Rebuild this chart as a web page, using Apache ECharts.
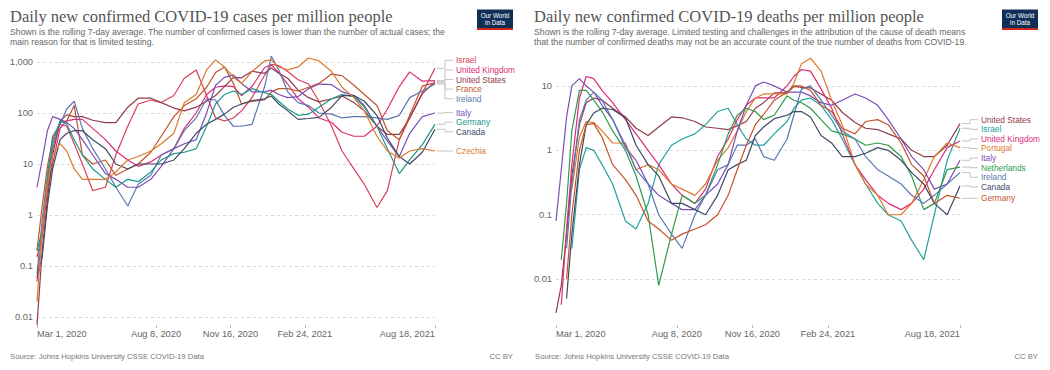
<!DOCTYPE html>
<html><head><meta charset="utf-8">
<script src="https://cdn.jsdelivr.net/npm/echarts@6/dist/echarts.min.js"></script>
<style>html,body{margin:0;padding:0;background:#fff}#c{width:1050px;height:370px}</style>
</head><body><div id="c"></div>
<script>
// ---- Data ----
const dates = ['2020-03-01','2020-03-08','2020-03-15','2020-03-22','2020-04-01','2020-04-10','2020-04-20','2020-05-01','2020-05-15','2020-06-01','2020-06-15','2020-07-01','2020-07-15','2020-08-01','2020-08-15','2020-09-01','2020-09-15','2020-10-01','2020-10-15','2020-10-27','2020-11-08','2020-11-20','2020-12-01','2020-12-15','2021-01-01','2021-01-10','2021-01-20','2021-02-01','2021-02-15','2021-03-01','2021-03-15','2021-04-01','2021-04-15','2021-05-01','2021-05-15','2021-06-01','2021-06-15','2021-07-01','2021-07-15','2021-08-01','2021-08-18'];

// Daily new confirmed cases per million (7-day average)
const casesIsrael        = [0.15,0.4,4,20,60,55,25,10,3,3.5,15,55,150,180,160,220,480,700,220,80,70,80,110,200,550,900,850,650,450,370,170,55,18,8,4,1.4,3,30,80,250,750];
const casesUnitedKingdom = [0.05,0.4,3,10,50,70,75,75,50,30,18,12,9,11,15,20,50,100,230,320,340,330,220,330,780,880,620,370,190,130,80,65,42,35,35,55,120,330,640,420,430];
const casesUnitedStates  = [0.007,0.2,2,15,70,92,85,85,72,65,65,130,195,195,160,125,110,130,170,220,330,500,490,660,600,760,600,480,280,200,165,190,215,160,110,55,38,38,80,240,410];
const casesFrance        = [0.2,1.5,9,30,65,70,140,15,10,12,6,8,10,17,35,85,140,190,320,620,800,380,150,170,180,260,300,300,270,320,380,580,540,350,230,140,45,30,90,340,390];
const casesIreland       = [0.07,0.8,6,35,60,120,170,50,20,8,3.5,1.5,4,6,15,20,45,80,190,180,90,55,55,60,330,1300,700,260,160,140,100,95,80,85,85,80,75,90,200,270,370];
const casesItaly         = [3.5,12,45,85,75,65,50,30,15,6.5,5,3.5,3.5,5,9,20,25,30,100,350,500,560,380,260,260,280,230,200,210,300,370,360,260,220,140,55,28,14,40,85,100];
const casesGermany       = [0.2,0.5,5,25,70,60,30,15,8,5,3.5,5,4.5,7,12,16,17,20,55,150,230,270,230,300,250,230,170,120,90,95,130,190,230,210,130,55,20,6.5,12,24,60];
const casesCanada        = [0.06,0.15,1.5,8,30,40,45,45,30,20,10,8,10,10,10,12,20,40,60,75,95,130,150,175,190,215,150,110,75,78,82,130,220,220,170,90,32,14,10,17,48];
const casesCzechia       = [0.02,0.5,4,15,25,18,8,5,5,5,7,12,14,18,25,40,160,230,700,1100,800,500,380,650,1050,1100,800,700,800,1200,1050,650,320,200,110,35,18,13,18,20,18];

// Daily new confirmed deaths per million (7-day average)
const deathsUnitedStates  = [0.003,0.008,0.05,0.4,2.5,5.5,6.5,6,4.5,3.3,2.2,1.7,2.3,3.3,3.2,2.8,2.3,2.2,2.1,2.4,2.8,4.5,5.5,7.8,7.8,9.8,9.5,9.3,7.5,6,3.9,2.7,2.2,2.1,1.8,1.5,1.0,0.8,0.8,1.2,2.6];
const deathsIsrael        = [null,null,null,0.03,0.5,1.1,1.0,0.6,0.3,0.08,0.06,0.15,0.6,1.2,1.5,1.8,2.5,4,4.5,2.5,1.5,1.2,1.2,1.8,2.8,4.5,6,6.5,5,3,1.5,0.6,0.3,0.15,0.1,0.08,0.04,0.02,0.1,0.7,2.2];
const deathsUnitedKingdom = [null,0.004,0.06,0.6,6.5,14,13,8.5,5.5,3,1.8,1.0,0.6,0.3,0.2,0.15,0.25,0.8,1.5,3,5,6.5,6.5,6.5,10,14,18,17,9,4.5,1.8,0.6,0.35,0.2,0.15,0.12,0.15,0.25,0.5,1.1,1.4];
const deathsPortugal      = [null,null,null,0.25,1.6,2.8,2.7,2,1.3,1.3,0.5,0.6,0.5,0.3,0.25,0.2,0.3,0.7,1.1,2,4,6.5,7.5,7.5,7.5,11,22,27,17,6,2.5,0.6,0.3,0.2,0.1,0.1,0.15,0.35,0.8,1.3,1.1];
const deathsItaly         = [0.08,0.5,3.3,10,13,10,8,5,3,1.1,0.7,0.3,0.2,0.15,0.12,0.12,0.2,0.3,0.6,2,5,10,11.5,10,8,8,8,7,5.5,5,6,7.5,6.5,5,3,1.5,0.8,0.5,0.25,0.3,0.7];
const deathsNetherlands   = [null,0.02,0.15,2,8.5,8.5,6,4,2,1,0.4,0.1,0.008,0.05,0.2,0.15,0.2,0.6,1.8,3.5,4.5,4,3,3.5,7,6,5.5,4.5,3,2,1.8,1.5,1.2,1.3,1.2,0.8,0.4,0.12,0.15,0.5,0.55];
const deathsIreland       = [null,null,0.03,0.3,3,6,8,6,3,1.2,0.5,0.3,0.1,0.05,0.03,0.1,0.2,0.5,0.6,1.2,1.2,1.5,0.8,0.7,1.5,3.5,9,10,6,3.5,2,1.5,0.8,0.5,0.4,0.3,0.2,0.15,0.2,0.3,0.45];
const deathsCanada        = [null,null,0.005,0.05,0.6,2.5,3.8,4.5,4.3,3.2,1.2,0.6,0.4,0.15,0.15,0.12,0.1,0.2,0.5,0.6,0.7,1.7,2.3,3.1,3.5,4,4,3.3,1.7,1.3,0.8,0.8,0.9,1.1,1.0,0.7,0.45,0.3,0.15,0.1,0.28];
const deathsGermany       = [null,null,0.01,0.1,1,2.5,2.6,1.6,0.6,0.35,0.2,0.08,0.06,0.04,0.05,0.06,0.07,0.1,0.2,0.5,1.2,2.5,3.6,6,8,10,10,8.5,5,4,2.2,1.8,2.8,3,2.5,1.3,0.6,0.4,0.15,0.2,0.18];

// Tick labels
const xTickDates = ['2020-03-01','2020-08-08','2020-11-16','2021-02-24','2021-08-18'];
const yTickExponents = [-2,-1,0,1,2,3];
const yTickLabels = ['0.01','0.1','1','10','100','1,000'];

// Texts
const titleCases = 'Daily new confirmed COVID-19 cases per million people';
const subtitleCases = 'Shown is the rolling 7-day average. The number of confirmed cases is lower than the number of actual cases; the\nmain reason for that is limited testing.';
const titleDeaths = 'Daily new confirmed COVID-19 deaths per million people';
const subtitleDeaths = 'Shown is the rolling 7-day average. Limited testing and challenges in the attribution of the cause of death means\nthat the number of confirmed deaths may not be an accurate count of the true number of deaths from COVID-19.';
const sourceText = 'Source: Johns Hopkins University CSSE COVID-19 Data';
const licenseText = 'CC BY';

// ---- Series styling ----
const caseSeries = [
  {name:'Israel', data:casesIsrael, color:'#d94158'},
  {name:'United Kingdom', data:casesUnitedKingdom, color:'#de2b78'},
  {name:'United States', data:casesUnitedStates, color:'#8f3d4b'},
  {name:'France', data:casesFrance, color:'#c4522a'},
  {name:'Ireland', data:casesIreland, color:'#5a77b0'},
  {name:'Italy', data:casesItaly, color:'#7d4db5'},
  {name:'Germany', data:casesGermany, color:'#1a9988'},
  {name:'Canada', data:casesCanada, color:'#3e4a63'},
  {name:'Czechia', data:casesCzechia, color:'#da7a2c'}
];
const deathSeries = [
  {name:'United States', data:deathsUnitedStates, color:'#8f3d4b'},
  {name:'Israel', data:deathsIsrael, color:'#22a29a'},
  {name:'United Kingdom', data:deathsUnitedKingdom, color:'#de2b78'},
  {name:'Portugal', data:deathsPortugal, color:'#dd7a2c'},
  {name:'Italy', data:deathsItaly, color:'#7d4db5'},
  {name:'Netherlands', data:deathsNetherlands, color:'#2e9b4c'},
  {name:'Ireland', data:deathsIreland, color:'#5a77b0'},
  {name:'Canada', data:deathsCanada, color:'#3e4a63'},
  {name:'Germany', data:deathsGermany, color:'#c4522a'}
];

// Day number since the first date (x axis is a value axis of days)
const T0 = Date.parse(dates[0] + 'T00:00:00Z');
function dayOf(s){ return Math.round((Date.parse(s + 'T00:00:00Z') - T0) / 86400000); }
const MONTHS = ['Jan','Feb','Mar','Apr','May','Jun','Jul','Aug','Sep','Oct','Nov','Dec'];
function fmtDay(v){ const d = new Date(T0 + Math.round(v) * 86400000); return MONTHS[d.getUTCMonth()] + ' ' + d.getUTCDate() + ', ' + d.getUTCFullYear(); }
function fmtLog(v){
  const e = Math.log10(v), k = Math.round(e);
  if (Math.abs(e - k) > 0.01) return '';
  const i = yTickExponents.indexOf(k);
  return i < 0 ? '' : yTickLabels[i];
}

const SANS = 'Liberation Sans';
const SERIF = 'Liberation Serif';
const xTicks = xTickDates.map(dayOf);

function xAxisCfg(gi){
  return {type:'value', gridIndex:gi, min:0, max:dayOf(dates[dates.length-1]),
    axisLine:{show:false},
    axisTick:{show:true, customValues:xTicks, length:3, lineStyle:{color:'#bbb'}},
    axisLabel:{customValues:xTicks, formatter:fmtDay, color:'#666', fontSize:9.3, fontFamily:SANS, margin:4,
      alignMinLabel:'left', alignMaxLabel:'right', hideOverlap:false},
    splitLine:{show:false}};
}
function yAxisCfg(gi, mn, mx){
  return {type:'log', logBase:10, gridIndex:gi, min:mn, max:mx,
    axisLine:{show:false}, axisTick:{show:false},
    axisLabel:{formatter:fmtLog, color:'#666', fontSize:9.3, fontFamily:SANS, margin:4, showMinLabel:false, showMaxLabel:false},
    splitLine:{show:true, showMinLine:false, showMaxLine:false, lineStyle:{type:[3,3], color:'#d9d9d9', width:1}}};
}
function mkSeries(list, gi){
  return list.map(s => ({type:'line', name:s.name, xAxisIndex:gi, yAxisIndex:gi,
    data: dates.map((d,i) => [dayOf(d), s.data[i]]), showSymbol:false, symbol:'none',
    lineStyle:{width:1.2, color:s.color}, itemStyle:{color:s.color}, emphasis:{disabled:true}, silent:true}));
}
function titleBlock(left, title, sub){
  return [
    {text:title, left:left, top:8, padding:0, textStyle:{fontFamily:SERIF, fontSize:16.5, fontWeight:'normal', color:'#555'}},
    {text:sub, left:left, top:27, padding:0, textStyle:{fontFamily:SANS, fontSize:8.7, fontWeight:'normal', color:'#666', lineHeight:10}}
  ];
}
function footer(left, right){
  return [
    {text:sourceText, left:left, top:352, padding:0, textStyle:{fontFamily:SANS, fontSize:7.7, fontWeight:'normal', color:'#777'}},
    {text:licenseText, right:right, top:352, padding:0, textStyle:{fontFamily:SANS, fontSize:7.7, fontWeight:'normal', color:'#777'}}
  ];
}
function logo(x){
  return {type:'group', x:x, y:9.5, children:[
    {type:'rect', shape:{x:0,y:0,width:36,height:20.5}, style:{fill:'#0f2f57'}},
    {type:'rect', shape:{x:0,y:18.5,width:36,height:2}, style:{fill:'#ce261e'}},
    {type:'text', x:18, y:5.5, style:{text:'Our World', fill:'#fff', font:'6.3px "'+SANS+'"', align:'center', textAlign:'center', verticalAlign:'middle', textVerticalAlign:'middle'}},
    {type:'text', x:18, y:12.5, style:{text:'in Data', fill:'#fff', font:'6.3px "'+SANS+'"', align:'center', textAlign:'center', verticalAlign:'middle', textVerticalAlign:'middle'}}
  ]};
}

const chart = echarts.init(document.getElementById('c'), null, {renderer:'svg', width:1050, height:370});
chart.setOption({
  animation:false,
  backgroundColor:'#fff',
  title: [].concat(titleBlock(10, titleCases, subtitleCases), titleBlock(534, titleDeaths, subtitleDeaths),
                   footer(10, 537), footer(535, 12)),
  grid:[
    {left:37, top:55, width:398, height:270, containLabel:false, outerBoundsMode:'none'},
    {left:556, top:55, width:404, height:270, containLabel:false, outerBoundsMode:'none'}
  ],
  xAxis:[xAxisCfg(0), xAxisCfg(1)],
  yAxis:[yAxisCfg(0, 0.00697, 1372), yAxisCfg(1, 0.00194, 30.2)],
  series: mkSeries(caseSeries, 0).concat(mkSeries(deathSeries, 1)),
  tooltip:{show:false}
});

// ---- End labels with connector lines (positions derived from the axes) ----
function layoutLabels(list, gi, gap){
  const items = list.map(s => {
    let last = s.data.length - 1; while (s.data[last] == null) last--;
    const p = chart.convertToPixel({gridIndex:gi}, [dayOf(dates[last]), s.data[last]]);
    return {name:s.name, color:s.color, x:p[0], y0:p[1], y:p[1]};
  }).sort((a,b) => a.y0 - b.y0);
  let clusters = items.map(it => ({members:[it], center:it.y0}));
  let changed = true;
  while (changed){
    changed = false;
    for (let i = 0; i < clusters.length - 1; i++){
      const a = clusters[i], b = clusters[i+1];
      const aBottom = a.center + (a.members.length-1)*gap/2;
      const bTop = b.center - (b.members.length-1)*gap/2;
      if (bTop - aBottom < gap){
        const m = a.members.concat(b.members);
        const c = m.reduce((s,it) => s + it.y0, 0) / m.length;
        clusters.splice(i, 2, {members:m, center:c});
        changed = true; break;
      }
    }
  }
  clusters.forEach(c => c.members.forEach((it,j) => { it.y = c.center - (c.members.length-1)*gap/2 + j*gap; }));
  return items;
}
function labelGraphics(items, elbowDx, labelDx){
  const out = [];
  items.forEach(it => {
    const xe = it.x + elbowDx, xl = it.x + labelDx;
    out.push({type:'polyline', silent:true, shape:{points:[[it.x+2, it.y0],[xe, it.y0],[xe, it.y],[xl-3, it.y]]},
      style:{stroke:'#c4c4c4', lineWidth:1, fill:null}});
    out.push({type:'text', silent:true, x:xl, y:it.y, style:{text:it.name, fill:it.color, font:'8.3px "'+SANS+'"',
      align:'left', textAlign:'left', verticalAlign:'middle', textVerticalAlign:'middle'}});
  });
  return out;
}
const gfx = [logo(477), logo(1002)]
  .concat(labelGraphics(layoutLabels(caseSeries, 0, 9.6), 10, 21))
  .concat(labelGraphics(layoutLabels(deathSeries, 1, 9.6), 10, 21));
chart.setOption({graphic: gfx});
</script></body></html>
